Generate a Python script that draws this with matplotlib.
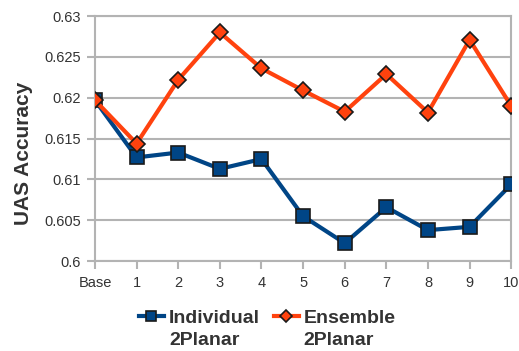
import matplotlib
matplotlib.use("Agg")
import matplotlib.pyplot as plt
from matplotlib.legend_handler import HandlerLine2D

labels = ["Base", "1", "2", "3", "4", "5", "6", "7", "8", "9", "10"]
individual = [0.6197, 0.6127, 0.6133, 0.6113, 0.6125, 0.6055, 0.6022, 0.6066, 0.6038, 0.6042, 0.6094]
ensemble = [0.6197, 0.6144, 0.6222, 0.6280, 0.6236, 0.6209, 0.6183, 0.6229, 0.6182, 0.6271, 0.6190]

plt.rcParams['font.family'] = ['Liberation Sans', 'DejaVu Sans']


# legend handles sit next to the first line of the two-line labels
class TopHandler(HandlerLine2D):
    def create_artists(self, legend, orig_handle, xdescent, ydescent,
                       width, height, fontsize, trans):
        arts = super().create_artists(legend, orig_handle, xdescent, ydescent,
                                      width, height, fontsize, trans)
        for a in arts:
            a.set_ydata([y + 10 for y in a.get_ydata()])
        return arts


fig = plt.figure(figsize=(5.19, 3.51), dpi=100)
ax = fig.add_axes([0.183, 0.256, 0.802, 0.698])

x = list(range(len(labels)))
ax.plot(x, individual, color="#004586", lw=3, marker="s", ms=10,
        mfc="#004586", mec="#1a1a1a", mew=1.2, label="Individual\n2Planar", zorder=3)
ax.plot(x, ensemble, color="#ff420e", lw=3, marker="D", ms=8,
        mfc="#ff420e", mec="#1a1a1a", mew=1.2, label="Ensemble\n2Planar", zorder=4)

ax.set_xlim(0, 10)
ax.set_ylim(0.6, 0.63)
ax.set_xticks(x)
ax.set_xticklabels(labels)
ax.set_yticks([0.6, 0.605, 0.61, 0.615, 0.62, 0.625, 0.63])
ax.set_yticklabels(["0.6", "0.605", "0.61", "0.615", "0.62", "0.625", "0.63"])
ax.grid(axis="y", color="#b3b3b3", lw=1.5)
ax.set_axisbelow(True)
for s in ax.spines.values():
    s.set_color("#b3b3b3")
    s.set_linewidth(1.5)
ax.tick_params(colors="#b3b3b3", labelcolor="#333333", labelsize=10.5, width=1.5, length=6)
ax.tick_params(axis="x", pad=5)
ax.tick_params(axis="y", pad=4)
ax.set_ylabel("UAS Accuracy", fontsize=15, fontweight="bold", color="#333333")
ax.yaxis.set_label_coords(-0.15, 0.44)

leg = fig.legend(loc="lower center", ncol=2, frameon=False, bbox_to_anchor=(0.515, -0.045),
                 prop={"size": 14, "weight": "bold"}, handlelength=1.3, columnspacing=0.7,
                 handletextpad=0.25, markerscale=0.75,
                 handler_map={plt.Line2D: TopHandler()})
for t in leg.get_texts():
    t.set_color("#333333")
    t.set_linespacing(1.4)

fig.savefig("out.png", dpi=100)
